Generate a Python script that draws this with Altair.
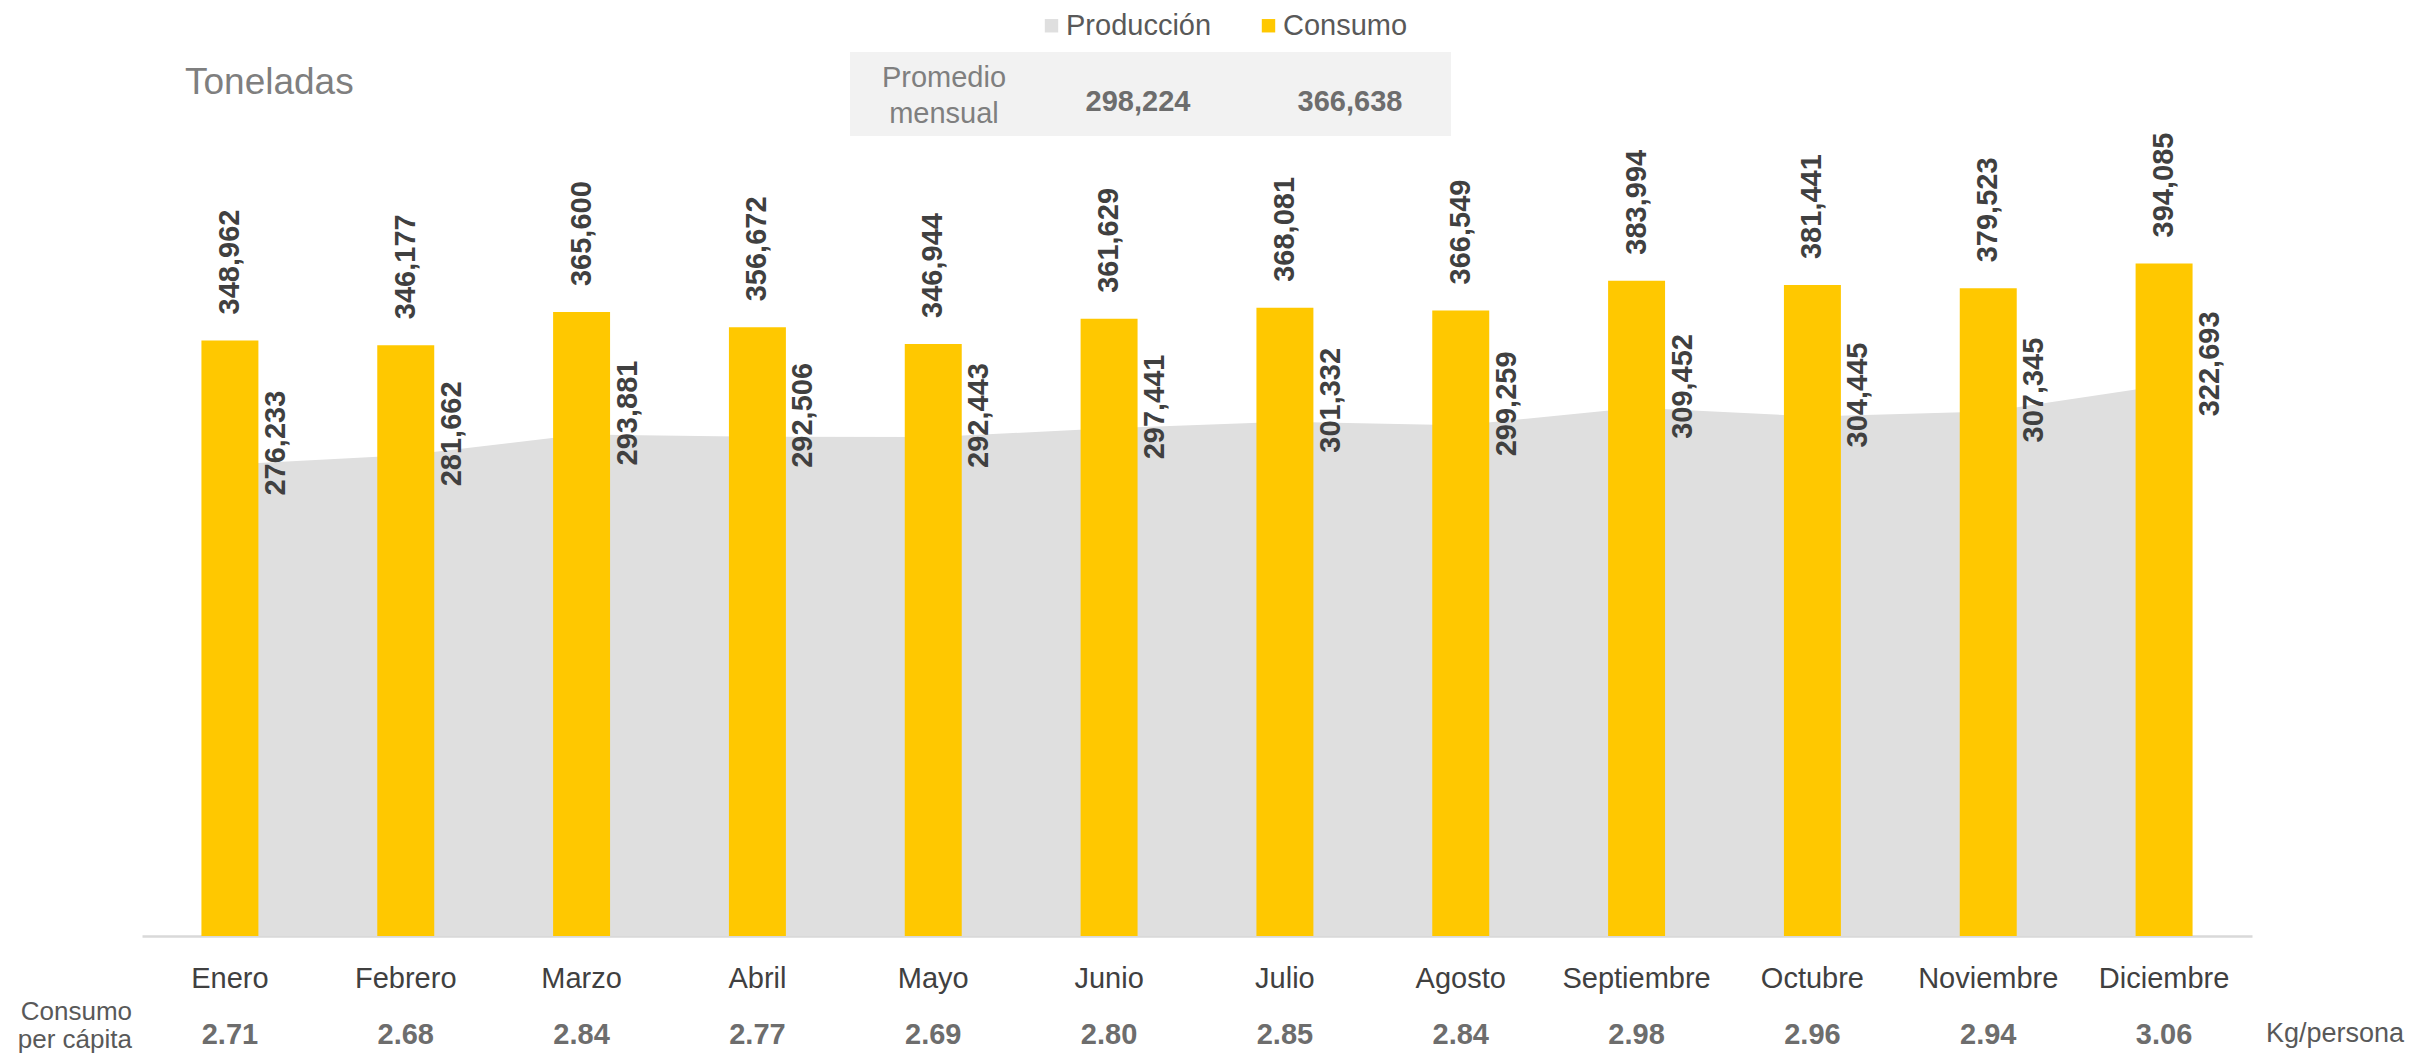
import altair as alt
import pandas as pd

meses = ["Enero", "Febrero", "Marzo", "Abril", "Mayo", "Junio", "Julio",
         "Agosto", "Septiembre", "Octubre", "Noviembre", "Diciembre"]
consumo = [348962, 346177, 365600, 356672, 346944, 361629, 368081,
           366549, 383994, 381441, 379523, 394085]
produccion = [276233, 281662, 293881, 292506, 292443, 297441, 301332,
              299259, 309452, 304445, 307345, 322693]
per_capita = [2.71, 2.68, 2.84, 2.77, 2.69, 2.80, 2.85, 2.84, 2.98, 2.96, 2.94, 3.06]
series = ["Producción", "Consumo"]
promedio = [298224, 366638]

FONT = "Liberation Sans"

df_prod = pd.DataFrame({"mes": meses, "valor": produccion, "serie": series[0]})
df_cons = pd.DataFrame({"mes": meses, "valor": consumo, "serie": series[1]})
df_pc = pd.DataFrame({"mes": meses, "pc": per_capita})

x_enc = alt.X(
    "mes:N", sort=meses,
    scale=alt.Scale(paddingInner=0.676, paddingOuter=0.338),
    axis=alt.Axis(title=None, labelAngle=0, labelFontSize=29, labelFont=FONT,
                  labelColor="#404040", labelPadding=28, ticks=False,
                  domainColor="#d9d9d9", domainWidth=2.5),
)
y_enc = alt.Y("valor:Q", scale=alt.Scale(domain=[0, 450000], nice=False, zero=True), axis=None)
color_enc = alt.Color(
    "serie:N",
    scale=alt.Scale(domain=series, range=["#dfdfdf", "#ffc800"]),
    legend=alt.Legend(title=None, orient="none", direction="horizontal",
                      legendX=895, legendY=-157, symbolType="square",
                      symbolSize=180, symbolStrokeWidth=0, symbolOpacity=1,
                      labelFontSize=29, labelFont=FONT, labelColor="#595959",
                      labelOffset=0, columnPadding=42),
)

area = alt.Chart(df_prod).mark_area(opacity=1).encode(x=x_enc, y=y_enc, color=color_enc)
bars = alt.Chart(df_cons).mark_bar(opacity=1).encode(x=x_enc, y=y_enc, color=color_enc)

cons_lbl = alt.Chart(df_cons).mark_text(
    angle=270, align="left", baseline="middle", dx=26,
    fontSize=29, fontWeight="bold", font=FONT, color="#404040"
).encode(x=alt.X("mes:N", sort=meses), y=alt.Y("valor:Q"), text=alt.Text("valor:Q", format=",.0f"))

prod_lbl = alt.Chart(df_prod).mark_text(
    angle=270, align="left", baseline="middle", dx=-31, dy=46,
    fontSize=29, fontWeight="bold", font=FONT, color="#404040"
).encode(x=alt.X("mes:N", sort=meses), y=alt.Y("valor:Q"), text=alt.Text("valor:Q", format=",.0f"))

pc_lbl = alt.Chart(df_pc).mark_text(
    align="center", baseline="middle", fontSize=29, fontWeight="bold",
    font=FONT, color="#6d6d6d"
).encode(x=alt.X("mes:N", sort=meses), y=alt.value(867), text=alt.Text("pc:Q", format=".2f"))

one = pd.DataFrame({"k": [0]})

pc_title = alt.Chart(one).mark_text(
    align="right", baseline="middle", fontSize=26, font=FONT, color="#595959",
    lineHeight=28, text=["Consumo", "per cápita"]
).encode(x=alt.value(-10), y=alt.value(844))

kg = alt.Chart(one).mark_text(
    align="left", baseline="middle", fontSize=27, font=FONT, color="#595959",
    text="Kg/persona"
).encode(x=alt.value(2124), y=alt.value(866))

toneladas = alt.Chart(one).mark_text(
    align="left", baseline="middle", fontSize=37, font=FONT, color="#7f7f7f",
    text="Toneladas"
).encode(x=alt.value(43), y=alt.value(-85))

box = alt.Chart(one).mark_rect(color="#f2f2f2").encode(
    x=alt.value(708), x2=alt.value(1309), y=alt.value(-116), y2=alt.value(-32))

prom_title = alt.Chart(one).mark_text(
    align="center", baseline="middle", fontSize=29, font=FONT, color="#7f7f7f",
    lineHeight=36, text=["Promedio", "mensual"]
).encode(x=alt.value(802), y=alt.value(-90))

prom_p = alt.Chart(pd.DataFrame({"v": [promedio[0]]})).mark_text(
    align="center", baseline="middle", fontSize=29, fontWeight="bold", font=FONT, color="#6d6d6d"
).encode(x=alt.value(996), y=alt.value(-66), text=alt.Text("v:Q", format=",.0f"))

prom_c = alt.Chart(pd.DataFrame({"v": [promedio[1]]})).mark_text(
    align="center", baseline="middle", fontSize=29, fontWeight="bold", font=FONT, color="#6d6d6d"
).encode(x=alt.value(1208), y=alt.value(-66), text=alt.Text("v:Q", format=",.0f"))

chart = alt.layer(
    box, area, bars, cons_lbl, prod_lbl, pc_lbl, pc_title, kg, toneladas,
    prom_title, prom_p, prom_c
).properties(
    width=2110, height=768,
    padding={"left": 134, "top": 160, "right": 163, "bottom": 119},
    autosize=alt.AutoSizeParams(type="none"),
).configure(
    background="white",
    view=alt.ViewConfig(stroke=None, strokeWidth=0),
)

chart.save("out.html", embed_options={"renderer": "svg", "actions": False})
